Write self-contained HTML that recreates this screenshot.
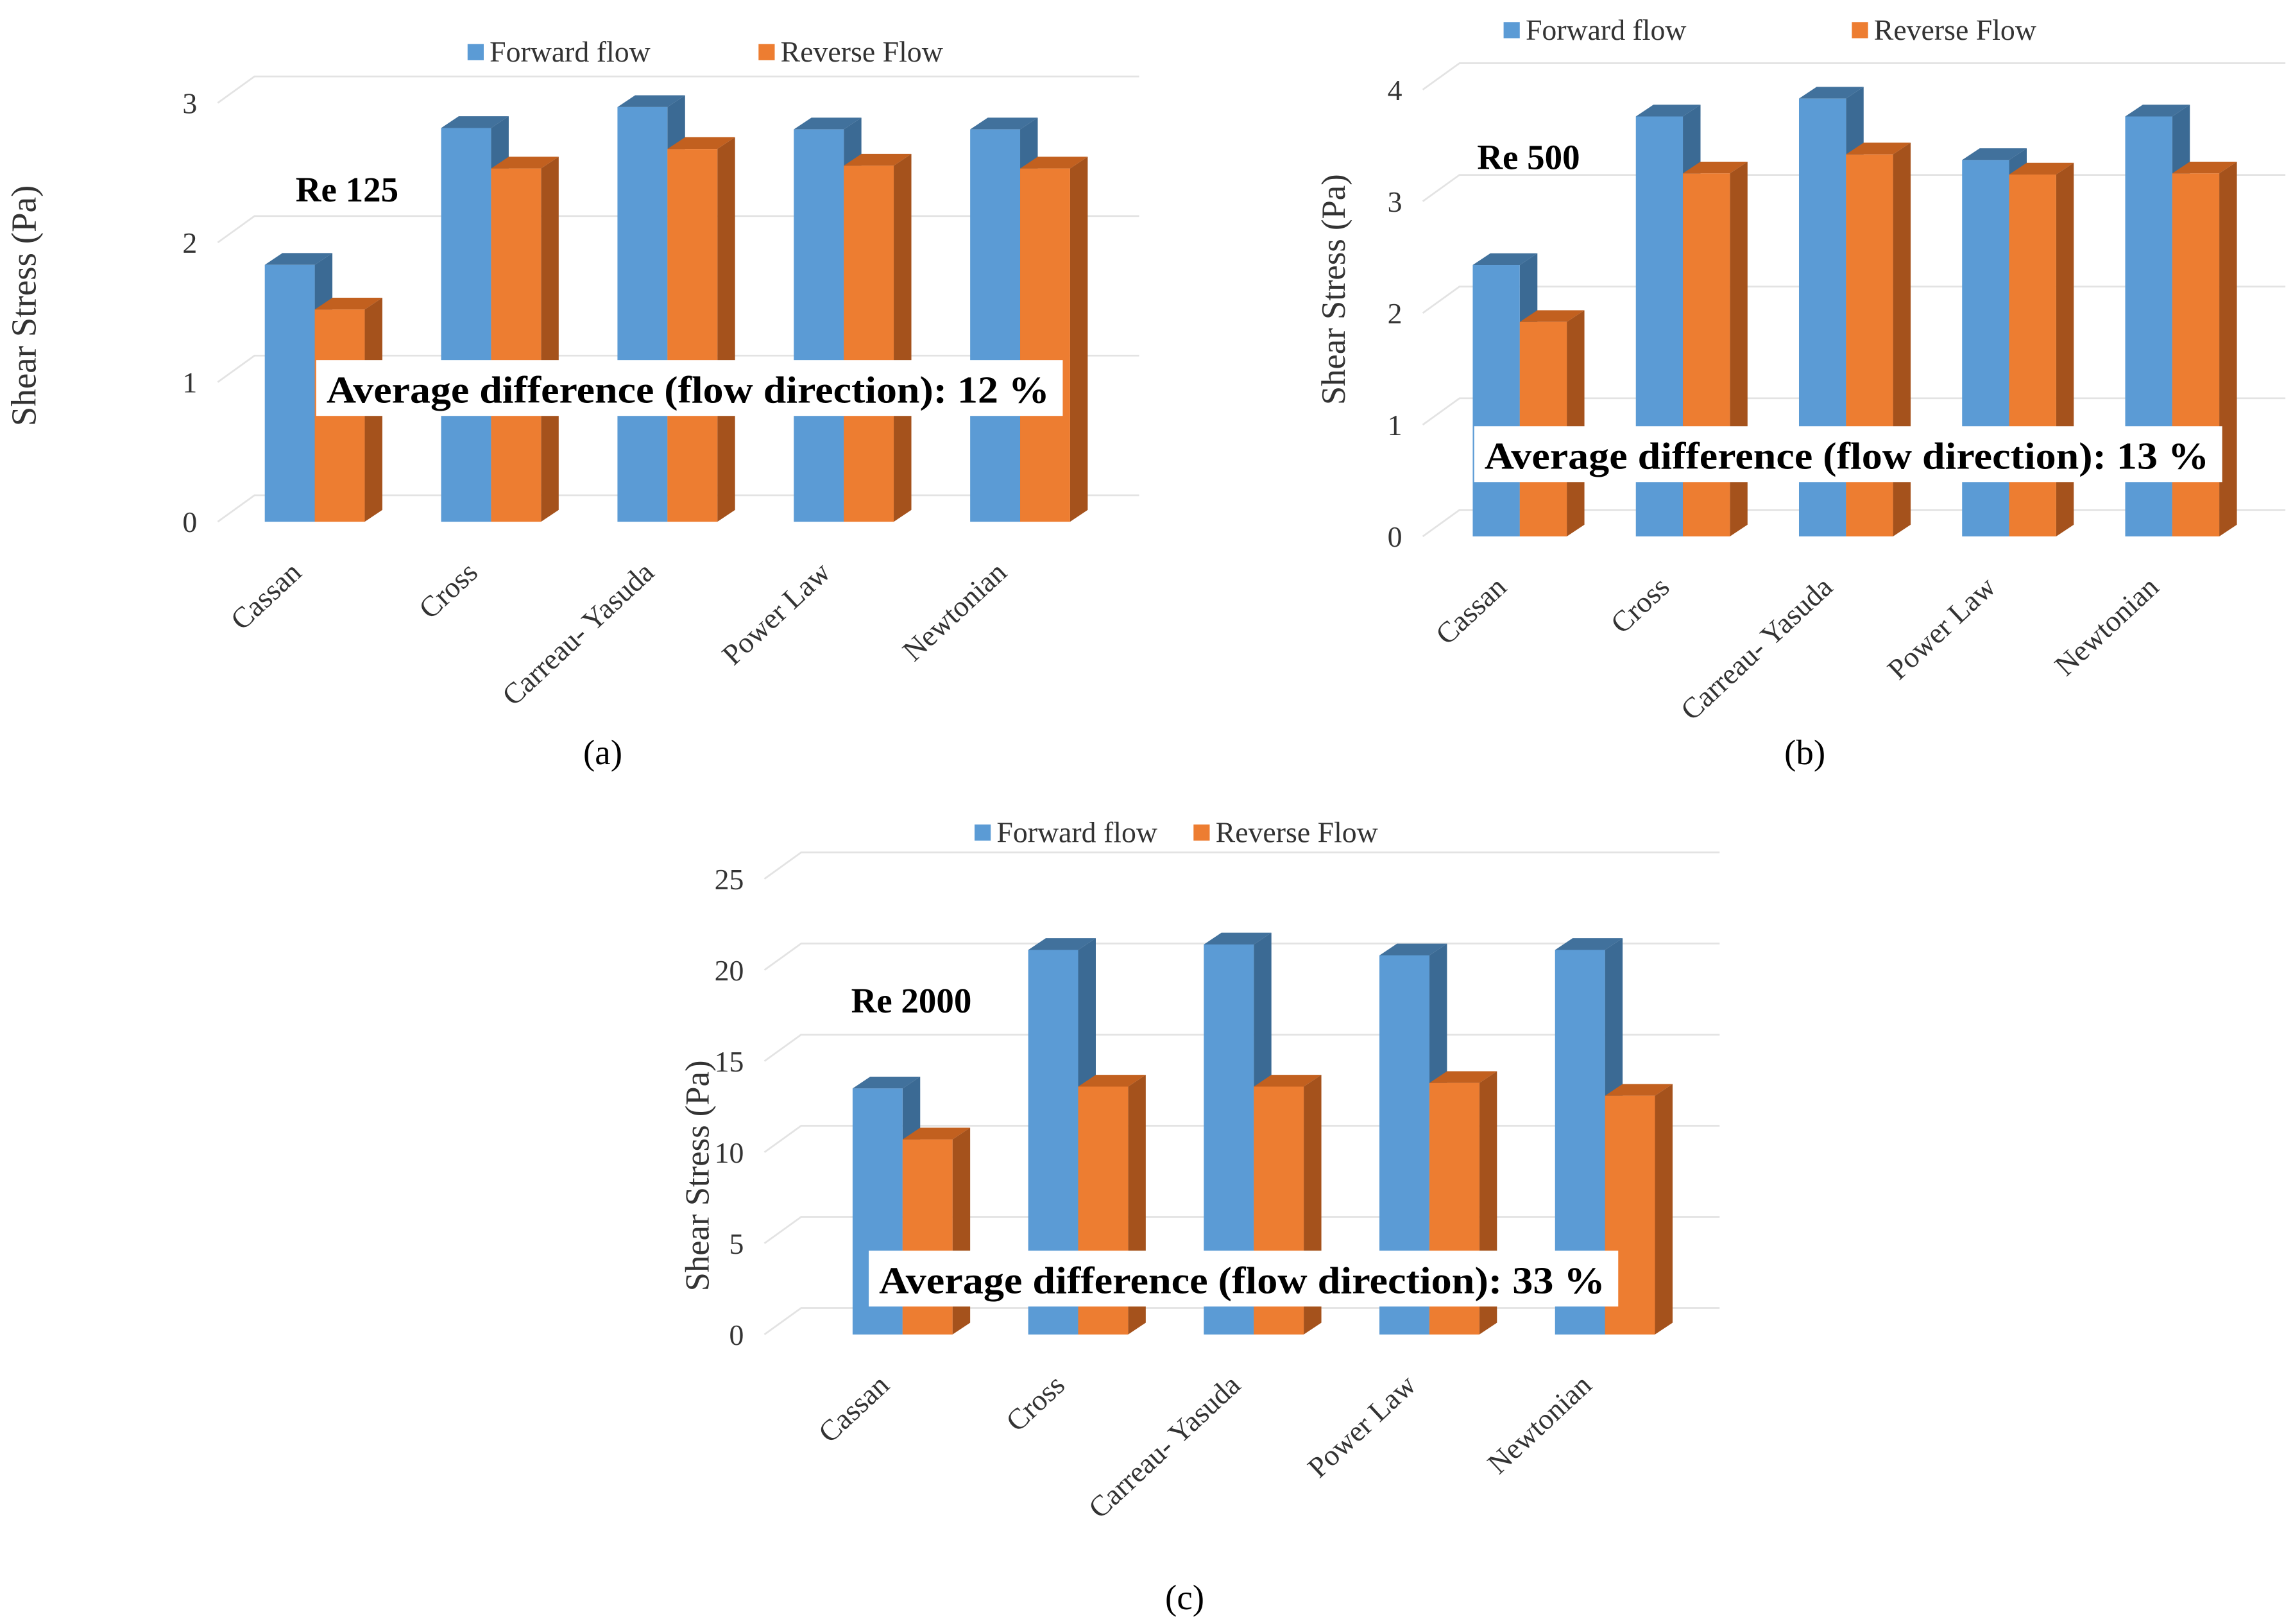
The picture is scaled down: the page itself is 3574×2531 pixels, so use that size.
<!DOCTYPE html>
<html><head><meta charset="utf-8"><style>
html,body{margin:0;padding:0;background:#fff;}
svg{display:block;}
svg text{font-family:"Liberation Serif","Times New Roman",serif;}
</style></head><body>
<svg id="s" width="3574" height="2531" viewBox="0 0 1560 1105" xmlns="http://www.w3.org/2000/svg" font-family="Liberation Serif, serif"></svg>
<script>
const categories = ["Cassan","Cross","Carreau- Yasuda","Power Law","Newtonian"];
const forwardA = [1.84, 2.82, 2.97, 2.81, 2.81];
const reverseA = [1.52, 2.53, 2.67, 2.55, 2.53];
const forwardB = [2.43, 3.76, 3.92, 3.37, 3.76];
const reverseB = [1.92, 3.25, 3.42, 3.24, 3.25];
const forwardC = [13.5, 21.1, 21.4, 20.8, 21.1];
const reverseC = [10.7, 13.6, 13.6, 13.8, 13.1];
const ticksA = [0,1,2,3];
const ticksB = [0,1,2,3,4];
const ticksC = [0,5,10,15,20,25];

const NS="http://www.w3.org/2000/svg";
const svg=document.getElementById('s');
function mk(tag,attrs,parent){const e=document.createElementNS(NS,tag);for(const k in attrs)e.setAttribute(k,attrs[k]);if(tag==='text')e.setAttribute('font-family','Liberation Serif, serif');(parent||svg).appendChild(e);return e;}

function chart(cfg){
  const g=mk('g',{});
  
  
  const y=v=>cfg.y0-v*cfg.ppu;
  const WX=25, WY=-18;
  cfg.ticks.forEach(t=>{
    const yy=y(t);
    const l=mk('polyline',{points:`${cfg.wallX},${yy} ${cfg.wallX+WX},${yy+WY} ${cfg.right},${yy+WY}`,fill:'none',stroke:'#e3e3e3','stroke-width':1.2},g);
    
    
    const tl=mk('text',{x:cfg.wallX-14,y:yy+7,'text-anchor':'end','font-size':20,fill:'#333'},g);
    tl.textContent=t;
    
    
  });
  const dx=12, dy=-8;
  const cols=[['#5b9bd5','#41719c','#3b6a94'],['#ed7d31','#c2601f','#a5521c']];
  categories.forEach((c,i)=>{
    const x0=cfg.x0+i*cfg.step;
    [cfg.fwd[i],cfg.rev[i]].forEach((v,k)=>{
      const x=x0+k*cfg.bw, top=y(v), bot=cfg.y0, w=cfg.bw, cl=cols[k];
      const b=mk('g',{},g);
      
      
      mk('polygon',{points:`${x},${top} ${x+dx},${top+dy} ${x+w+dx},${top+dy} ${x+w},${top}`,fill:cl[1]},b);
      mk('polygon',{points:`${x+w},${top} ${x+w+dx},${top+dy} ${x+w+dx},${bot+dy} ${x+w},${bot}`,fill:cl[2]},b);
      mk('rect',{x:x,y:top,width:w,height:bot-top,fill:cl[0]},b);
    });
    const cx=x0+cfg.bw-8, cy=cfg.y0+36;
    const tl=mk('text',{x:cx,y:cy,'text-anchor':'end','font-size':20,fill:'#333',transform:`rotate(-43 ${cx} ${cy})`},g);
    tl.textContent=c;
    
    
  });
  const a=mk('rect',{x:cfg.ann[0],y:cfg.ann[1],width:cfg.ann[2],height:38,fill:'#fff'},g);
  
  
  const at=mk('text',{x:cfg.ann[0]+7,y:cfg.ann[1]+29,'font-size':26,'font-weight':'bold',textLength:cfg.ann[2]-16,lengthAdjust:'spacingAndGlyphs',fill:'#000'},g);
  at.textContent=`Average  difference (flow direction): ${cfg.pct} %`;
  
  
  const re=mk('text',{x:cfg.re[0],y:cfg.re[1],'font-size':24,'font-weight':'bold'},g);
  re.textContent=cfg.reText;
  
  
  [['Forward flow','#5b9bd5',cfg.leg[0]],['Reverse Flow','#ed7d31',cfg.leg[1]]].forEach(([t,c,x])=>{
    const lg=mk('g',{},g);
    
    
    mk('rect',{x:x,y:cfg.legY-12,width:11,height:11,fill:c},lg);
    const tt=mk('text',{x:x+15,y:cfg.legY,'font-size':20,fill:'#333'},lg);
    tt.textContent=t;
  });
  const yt=mk('text',{x:cfg.yt[0],y:cfg.yt[1],'font-size':cfg.ytSize,'text-anchor':'middle',fill:'#333',transform:`rotate(-90 ${cfg.yt[0]} ${cfg.yt[1]})`},g);
  yt.textContent='Shear Stress (Pa)';
  
  
  const cap=mk('text',{x:cfg.cap[0],y:cfg.cap[1],'font-size':24,'text-anchor':'middle'},g);
  cap.textContent=cfg.capText;
  
  
}

chart({name:'chart-a',y0:355,ppu:95,wallX:148,right:775,ticks:ticksA,x0:180,step:120,bw:34,fwd:forwardA,rev:reverseA,
  ann:[215,245,508],pct:12,re:[201,137],reText:'Re 125',leg:[318,516],legY:42,yt:[24,208],ytSize:24,cap:[410,520],capText:'(a)'});
chart({name:'chart-b',y0:365,ppu:76,wallX:968,right:1555,ticks:ticksB,x0:1002,step:111,bw:32,fwd:forwardB,rev:reverseB,
  ann:[1003,290,509],pct:13,re:[1005,115],reText:'Re 500',leg:[1023,1260],legY:27,yt:[915,197],ytSize:23,cap:[1228,520],capText:'(b)'});
chart({name:'chart-c',y0:908,ppu:12.4,wallX:520,right:1170,ticks:ticksC,x0:580,step:119.5,bw:34,fwd:forwardC,rev:reverseC,
  ann:[591,851,510],pct:33,re:[579,689],reText:'Re 2000',leg:[663,812],legY:573,yt:[482,800],ytSize:23,cap:[806,1095],capText:'(c)'});
</script>
</body></html>
